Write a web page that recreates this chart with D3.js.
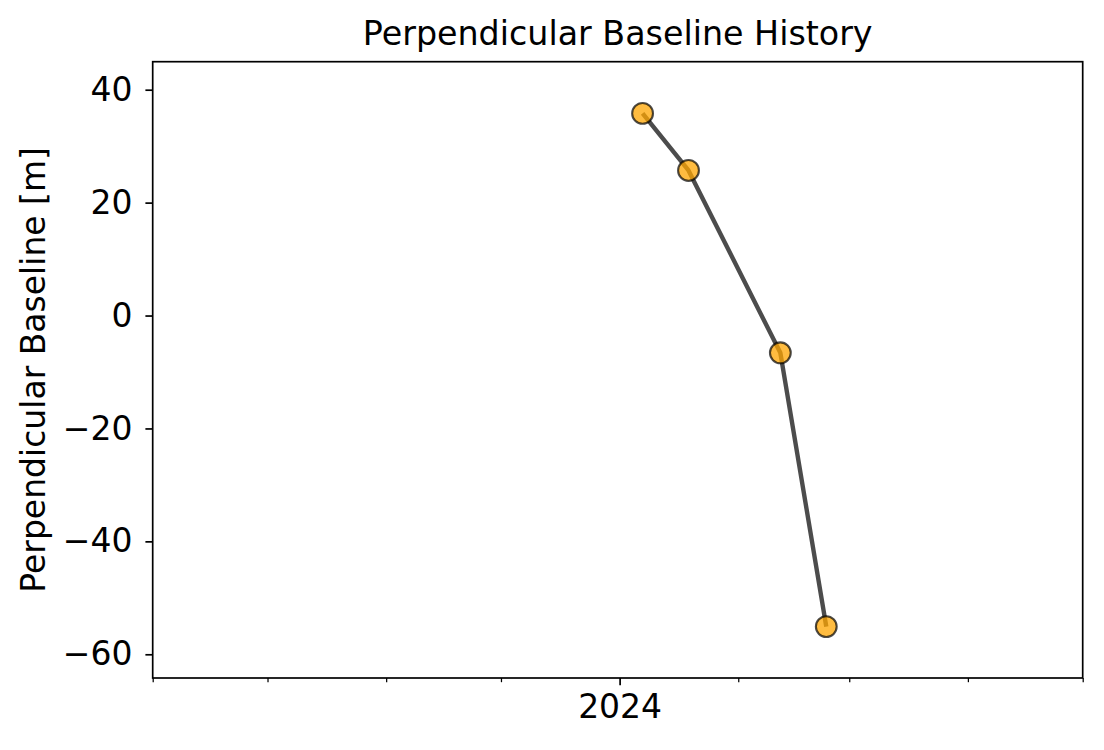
<!DOCTYPE html>
<html>
<head>
<meta charset="utf-8">
<script src="https://cdn.jsdelivr.net/npm/d3@7"></script>
<style>
  body { margin: 0; background: #fff; }
  svg { display: block; font-family: "DejaVu Sans", sans-serif; }
</style>
</head>
<body>
<svg id="chart" width="1104" height="750"></svg>
<script>
// ---- data ----
const dates = ["2024-01-07", "2024-01-19", "2024-02-12", "2024-02-24"];
const baselines = [35.8, 25.7, -6.6, -55.1];
const yTicks = [-60, -40, -20, 0, 20, 40];
const xMajorTicks = ["2024-01-01"];
const xMajorLabels = ["2024"];
const xMinorTicks = ["2023-09-01", "2023-10-01", "2023-11-01", "2023-12-01",
                     "2024-02-01", "2024-03-01", "2024-04-01", "2024-05-01"];
const xDomain = ["2023-09-01", "2024-05-01"];
const yDomain = [-64.2, 44.96];
const titleText = "Perpendicular Baseline History";
const yLabelText = "Perpendicular Baseline [m]";

// ---- layout ----
const pLeft = 152.7, pRight = 1082.7, pTop = 61.7, pBottom = 678;
const svg = d3.select("#chart");
const parse = d3.utcParse("%Y-%m-%d");

const x = d3.scaleUtc().domain(xDomain.map(parse)).range([pLeft, pRight]);
const y = d3.scaleLinear().domain(yDomain).range([pBottom, pTop]);

const fmt = v => (v < 0 ? "\u2212" + Math.abs(v) : String(v));

// line
const pts = dates.map((d, i) => ({ t: parse(d), v: baselines[i] }));
svg.append("path")
  .datum(pts)
  .attr("fill", "none")
  .attr("stroke", "black")
  .attr("stroke-opacity", 0.7)
  .attr("stroke-width", 4.4)
  .attr("stroke-linejoin", "round")
  .attr("d", d3.line().x(d => x(d.t)).y(d => y(d.v)));

// markers
svg.selectAll("circle.pt")
  .data(pts)
  .enter().append("circle")
  .attr("class", "pt")
  .attr("cx", d => x(d.t))
  .attr("cy", d => y(d.v))
  .attr("r", 10.4)
  .attr("fill", "rgba(255,165,0,0.75)")
  .attr("stroke", "rgba(0,0,0,0.7)")
  .attr("stroke-width", 2.1);

// frame
svg.append("rect")
  .attr("x", pLeft).attr("y", pTop)
  .attr("width", pRight - pLeft).attr("height", pBottom - pTop)
  .attr("fill", "none").attr("stroke", "black").attr("stroke-width", 1.7);

// y axis
const yAxis = d3.axisLeft(y).tickValues(yTicks).tickFormat(fmt).tickSize(7.3).tickPadding(13);
const gy = svg.append("g").attr("transform", `translate(${pLeft},0)`).call(yAxis);
gy.select(".domain").remove();
gy.selectAll(".tick line").attr("stroke-width", 1.7);
gy.selectAll(".tick text").attr("font-size", 33).attr("font-family", "DejaVu Sans").attr("fill", "black");

// x axis major
const xAxis = d3.axisBottom(x).tickValues(xMajorTicks.map(parse))
  .tickFormat((d, i) => xMajorLabels[i]).tickSize(7.3).tickPadding(9);
const gx = svg.append("g").attr("transform", `translate(0,${pBottom})`).call(xAxis);
gx.select(".domain").remove();
gx.selectAll(".tick line").attr("stroke-width", 1.7);
gx.selectAll(".tick text").attr("font-size", 33).attr("font-family", "DejaVu Sans").attr("fill", "black");

// x axis minor
const xMinor = d3.axisBottom(x).tickValues(xMinorTicks.map(parse)).tickFormat("").tickSize(4.2);
const gxm = svg.append("g").attr("transform", `translate(0,${pBottom})`).call(xMinor);
gxm.select(".domain").remove();
gxm.selectAll(".tick line").attr("stroke-width", 1.25);

// title
svg.append("text")
  .attr("x", (pLeft + pRight) / 2).attr("y", 45)
  .attr("text-anchor", "middle")
  .attr("font-size", 33.3)
  .text(titleText);

// y label
svg.append("text")
  .attr("transform", `translate(45,${(pTop + pBottom) / 2}) rotate(-90)`)
  .attr("text-anchor", "middle")
  .attr("font-size", 33)
  .text(yLabelText);
</script>
</body>
</html>
